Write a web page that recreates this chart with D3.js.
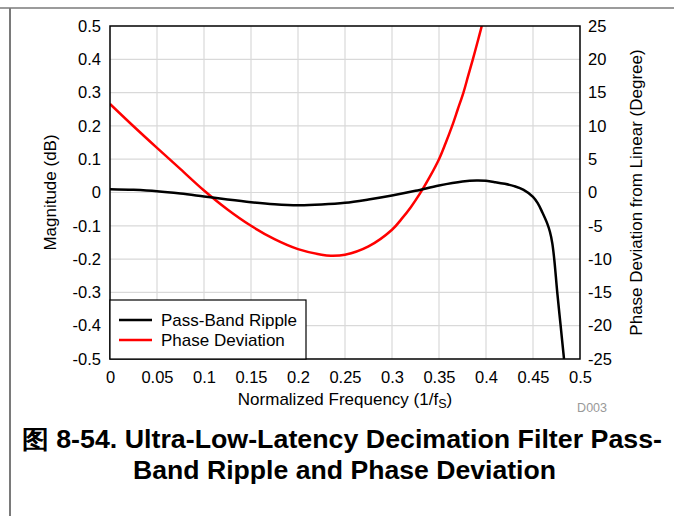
<!DOCTYPE html>
<html>
<head>
<meta charset="utf-8">
<script src="https://cdn.jsdelivr.net/npm/d3@7"></script>
<style>
  html, body { margin: 0; padding: 0; background: #fff; }
  svg { display: block; font-family: "Liberation Sans", Arial, sans-serif; }
</style>
</head>
<body>
<svg id="chart" width="674" height="516"></svg>
<script>
// ---- data ----
const rippleFreq = [0, 0.025, 0.05, 0.075, 0.1, 0.125, 0.15, 0.175, 0.2, 0.225, 0.25, 0.275, 0.3, 0.325, 0.35, 0.375, 0.39, 0.4, 0.41, 0.42, 0.43, 0.44, 0.45, 0.455, 0.46, 0.465, 0.468, 0.4705, 0.4726, 0.4758, 0.4794, 0.483];
const rippleDb   = [0.010, 0.008, 0.004, -0.003, -0.012, -0.021, -0.029, -0.035, -0.038, -0.036, -0.031, -0.021, -0.009, 0.005, 0.021, 0.033, 0.036, 0.035, 0.031, 0.026, 0.019, 0.008, -0.013, -0.032, -0.060, -0.092, -0.118, -0.152, -0.2, -0.3, -0.4, -0.5];

const phaseFreq = [0, 0.025, 0.05, 0.075, 0.1, 0.125, 0.15, 0.175, 0.2, 0.225, 0.235, 0.25, 0.275, 0.3, 0.31, 0.32, 0.33, 0.34, 0.35, 0.357, 0.364, 0.37, 0.376, 0.381, 0.386, 0.391, 0.3955];
const phaseDeg  = [13.3, 9.95, 6.7, 3.5, 0.3, -2.55, -5.0, -7.0, -8.5, -9.35, -9.5, -9.35, -8.1, -5.6, -4.0, -2.2, -0.1, 2.3, 5.0, 7.4, 10, 12.5, 15, 17.5, 20, 22.6, 25];

const xTicks = [0, 0.05, 0.1, 0.15, 0.2, 0.25, 0.3, 0.35, 0.4, 0.45, 0.5];
const xTickLabels = ["0", "0.05", "0.1", "0.15", "0.2", "0.25", "0.3", "0.35", "0.4", "0.45", "0.5"];
const yLeftTicks = [0.5, 0.4, 0.3, 0.2, 0.1, 0, -0.1, -0.2, -0.3, -0.4, -0.5];
const yLeftTickLabels = ["0.5", "0.4", "0.3", "0.2", "0.1", "0", "-0.1", "-0.2", "-0.3", "-0.4", "-0.5"];
const yRightTicks = [25, 20, 15, 10, 5, 0, -5, -10, -15, -20, -25];
const yRightTickLabels = ["25", "20", "15", "10", "5", "0", "-5", "-10", "-15", "-20", "-25"];

const seriesNames = ["Pass-Band Ripple", "Phase Deviation"];
const seriesColors = ["#000000", "#ff0000"];

// ---- layout ----
const svg = d3.select("#chart");
const L = 110, R = 580, T = 26, B = 359;

const x = d3.scaleLinear().domain([0, 0.5]).range([L, R]);
const yL = d3.scaleLinear().domain([-0.5, 0.5]).range([B, T]);
const yR = d3.scaleLinear().domain([-25, 25]).range([B, T]);

// page frame lines
svg.append("line").attr("x1", 0).attr("x2", 674).attr("y1", 8).attr("y2", 8)
  .attr("stroke", "#7a7a7a").attr("stroke-width", 1.5);
svg.append("line").attr("x1", 10).attr("x2", 10).attr("y1", 8).attr("y2", 516)
  .attr("stroke", "#7a7a7a").attr("stroke-width", 2);

// gridlines
const grid = svg.append("g");
grid.selectAll(".vg").data(xTicks.slice(1, -1)).join("line")
  .attr("x1", d => x(d)).attr("x2", d => x(d)).attr("y1", T).attr("y2", B)
  .attr("stroke", "#d9d9d9").attr("stroke-width", 1.2);
grid.selectAll(".hg").data(yLeftTicks.slice(1, -1)).join("line")
  .attr("x1", L).attr("x2", R).attr("y1", d => yL(d)).attr("y2", d => yL(d))
  .attr("stroke", "#d9d9d9").attr("stroke-width", 1.2);

// axes (labels only)
const fs = 16.5;
const fsT = 17;
const axB = svg.append("g").attr("transform", `translate(0,${B})`)
  .call(d3.axisBottom(x).tickValues(xTicks).tickSize(0).tickPadding(12)
    .tickFormat((d, i) => xTickLabels[i]));
const axL = svg.append("g").attr("transform", `translate(${L},0)`)
  .call(d3.axisLeft(yL).tickValues(yLeftTicks).tickSize(0).tickPadding(9)
    .tickFormat((d, i) => yLeftTickLabels[i]));
const axR = svg.append("g").attr("transform", `translate(${R},0)`)
  .call(d3.axisRight(yR).tickValues(yRightTicks).tickSize(0).tickPadding(8)
    .tickFormat((d, i) => yRightTickLabels[i]));
[axB, axL, axR].forEach(a => {
  a.select(".domain").remove();
  a.selectAll("text").attr("font-size", fs).attr("fill", "#000")
    .attr("font-family", "'Liberation Sans', Arial, sans-serif");
});

// clip
svg.append("clipPath").attr("id", "plotclip").append("rect")
  .attr("x", L).attr("y", T).attr("width", R - L).attr("height", B - T);

const plot = svg.append("g").attr("clip-path", "url(#plotclip)");
const lineL = d3.line().x(d => x(d[0])).y(d => yL(d[1])).curve(d3.curveCatmullRom.alpha(0.5));
const lineR = d3.line().x(d => x(d[0])).y(d => yR(d[1])).curve(d3.curveCatmullRom.alpha(0.5));

plot.append("path").datum(phaseFreq.map((f, i) => [f, phaseDeg[i]]))
  .attr("d", lineR).attr("fill", "none").attr("stroke", seriesColors[1]).attr("stroke-width", 2.5);
plot.append("path").datum(rippleFreq.map((f, i) => [f, rippleDb[i]]))
  .attr("d", lineL).attr("fill", "none").attr("stroke", seriesColors[0]).attr("stroke-width", 2.5);

// plot border
svg.append("rect").attr("x", L).attr("y", T).attr("width", R - L).attr("height", B - T)
  .attr("fill", "none").attr("stroke", "#000").attr("stroke-width", 1.5);

// legend
const lg = svg.append("g");
lg.append("rect").attr("x", L).attr("y", 300).attr("width", 196).attr("height", B - 300)
  .attr("fill", "#fff").attr("stroke", "#000").attr("stroke-width", 1.2);
seriesNames.forEach((n, i) => {
  const yy = 320 + i * 20;
  lg.append("line").attr("x1", 119).attr("x2", 152).attr("y1", yy).attr("y2", yy)
    .attr("stroke", seriesColors[i]).attr("stroke-width", 2.5);
  lg.append("text").attr("x", 161).attr("y", yy).attr("dy", "0.35em")
    .attr("font-size", fsT).text(n);
});

// axis titles
svg.append("text").attr("transform", `translate(56,${(T + B) / 2}) rotate(-90)`)
  .attr("text-anchor", "middle").attr("font-size", fsT).text("Magnitude (dB)");
svg.append("text").attr("transform", `translate(642,${(T + B) / 2}) rotate(-90)`)
  .attr("text-anchor", "middle").attr("font-size", fsT).text("Phase Deviation from Linear (Degree)");
const xt = svg.append("text").attr("x", (L + R) / 2).attr("y", 405)
  .attr("text-anchor", "middle").attr("font-size", fsT);
xt.append("tspan").text("Normalized Frequency (1/f");
xt.append("tspan").attr("font-size", 12.5).attr("dy", 3).text("S");
xt.append("tspan").attr("dy", -3).text(")");

svg.append("text").attr("x", 607).attr("y", 412).attr("text-anchor", "end")
  .attr("font-size", 12.5).attr("fill", "#999").text("D003");

// caption
svg.append("text").attr("x", 22).attr("y", 448).attr("font-size", 25).attr("font-weight", "bold")
  .attr("textLength", 640).attr("lengthAdjust", "spacingAndGlyphs")
  .text("图 8-54. Ultra-Low-Latency Decimation Filter Pass-");
svg.append("text").attr("x", 133).attr("y", 479).attr("font-size", 25).attr("font-weight", "bold")
  .attr("textLength", 423).attr("lengthAdjust", "spacingAndGlyphs")
  .text("Band Ripple and Phase Deviation");
</script>
</body>
</html>
